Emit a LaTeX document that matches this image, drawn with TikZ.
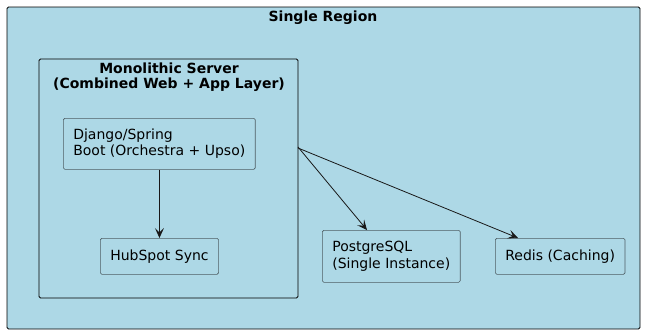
\documentclass[tikz,border=0pt]{standalone}
\usepackage{fontspec}
\setmainfont{DejaVu Sans}
\usetikzlibrary{arrows.meta}
\definecolor{regionblue}{HTML}{ADD8E6}
\definecolor{boxline}{HTML}{4E5E64}
\definecolor{inkline}{HTML}{181818}
\begin{document}
\begin{tikzpicture}[
        x=1pt, y=-1pt,
        frame/.style = {draw=black, line width=0.9pt, rounded corners=1.5pt, fill=regionblue},
        title/.style = {font=\fontsize{14}{15}\selectfont\bfseries, align=center, anchor=north, inner sep=0pt},
        comp/.style = {shape=rectangle, draw=boxline, line width=0.6pt, rounded corners=1.5pt, fill=regionblue,
                       align=left, anchor=north west, inner xsep=10pt, inner ysep=0pt,
                       font=\fontsize{14}{16.5}\selectfont},
        link/.style = {draw=inkline, line width=0.8pt, -{Stealth[length=10pt,width=9pt,inset=4.5pt]}}
    ]
    \useasboundingbox (0,0) rectangle (646,335);
    % outer region and server frame
    \draw[frame] (7,7) rectangle (640,329);
    \node[title] (regiontitle) at (323,11) {Single Region};
    \draw[frame] (39,59) rectangle (298,298);
    \node[title] (monotitle) at (169,62.5) {Monolithic Server\\(Combined Web + App Layer)};
    \coordinate (monoout) at (298,147);
    % components
    \node[comp, minimum height=51pt] (django) at (63,118) {Django/Spring\\Boot (Orchestra + Upso)};
    \node[comp, minimum height=36pt] (hubspot) at (100,238) {HubSpot Sync};
    \node[comp, minimum height=52pt] (postgres) at (322,230) {PostgreSQL\\(Single Instance)};
    \node[comp, minimum height=36pt] (redis) at (495,238) {Redis (Caching)};
    % connectors
    \draw[link] (django.south -| hubspot.north) -- (hubspot.north);
    \draw[link] (monoout) -- ([xshift=45pt]postgres.north west);
    \draw[link] ([yshift=-1pt]monoout) -- ([xshift=23pt]redis.north west);
\end{tikzpicture}
\end{document}
